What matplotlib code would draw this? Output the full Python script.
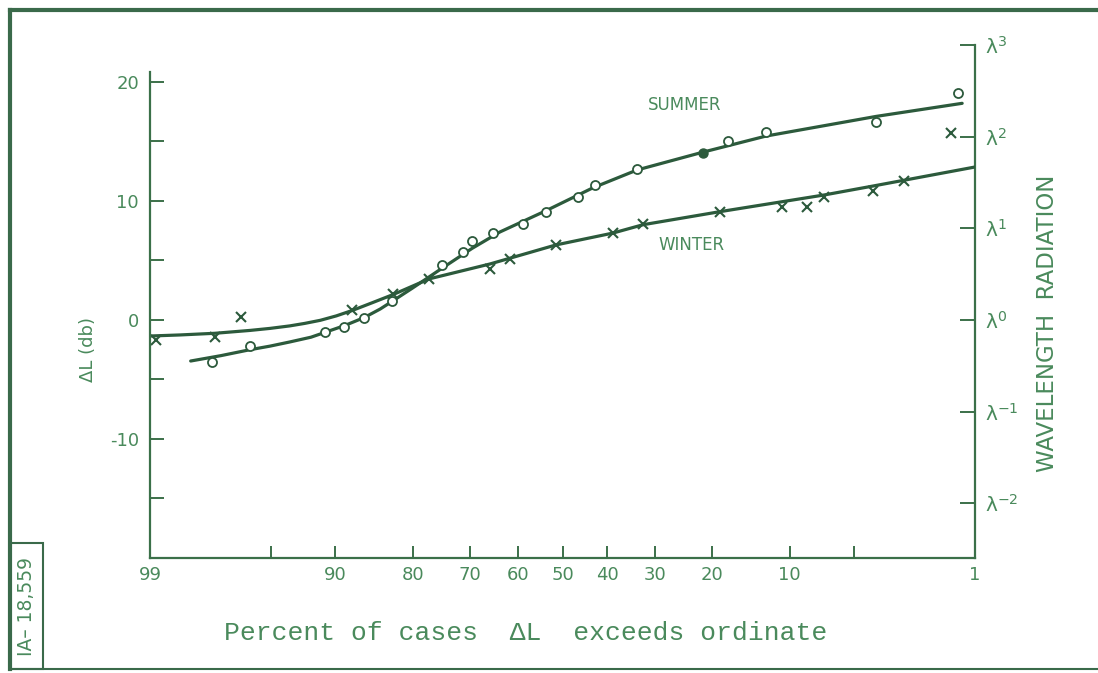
import statistics

import numpy as np
import matplotlib
matplotlib.use("Agg")
import matplotlib.pyplot as plt
from matplotlib.lines import Line2D
from matplotlib.patches import Rectangle
from matplotlib.ticker import FixedLocator, NullLocator

# percent of cases that dL exceeds the ordinate, and dL in db
summer_pct = [97.6, 96.1, 91.0, 89.1, 86.8, 83.2, 75.2, 71.3, 69.5, 65.2,
              58.8, 53.7, 46.5, 42.7, 33.7, 17.5, 12.6, 3.85, 1.29]
summer_db = [-3.5, -2.2, -1.0, -0.6, 0.15, 1.6, 4.6, 5.7, 6.6, 7.3,
             8.1, 9.1, 10.3, 11.3, 12.7, 15.0, 15.8, 16.6, 19.1]
summer_dot_pct = [21.4]
summer_dot_db = [14.0]

winter_pct = [98.9, 97.5, 96.5, 88.2, 83.0, 77.4, 65.9, 61.6, 51.5, 38.8,
              32.5, 18.7, 10.8, 8.4, 7.0, 4.0, 2.7, 1.42]
winter_db = [-1.7, -1.4, 0.25, 0.85, 2.2, 3.45, 4.3, 5.1, 6.3, 7.3,
             8.1, 9.1, 9.5, 9.5, 10.3, 10.8, 11.7, 15.7]

# hand-drawn smooth curves
summer_fit_pct = [98.2, 97.3, 96.1, 95.05, 93.8, 92.2, 91.0, 89.0, 86.8, 84.8,
                  83.2, 80.2, 75.2, 69.5, 63.8, 53.7, 43.2, 33.7, 21.4, 12.55,
                  3.85, 1.21]
summer_fit_db = [-3.45, -3.0, -2.5, -2.2, -1.85, -1.45, -1.05, -0.46, 0.21, 0.92,
                 1.55, 2.65, 4.33, 6.01, 7.39, 9.18, 11.1, 12.6, 14.1, 15.45,
                 17.1, 18.2]
winter_fit_pct = [99.0, 98.45, 97.5, 96.1, 95.05, 93.8, 92.7, 91.4, 89.9, 88.2,
                  85.9, 83.0, 77.4, 65.9, 51.5, 38.8, 32.5, 18.7, 7.0, 4.0, 1.0]
winter_fit_db = [-1.35, -1.26, -1.12, -0.88, -0.71, -0.5, -0.29, -0.03, 0.34, 0.8,
                 1.43, 2.14, 3.45, 4.7, 6.3, 7.3, 8.0, 9.1, 10.5, 11.25, 12.85]

x_ticks = [99, 95, 90, 80, 70, 60, 50, 40, 30, 20, 10, 5, 1]
x_labels = ["99", "", "90", "80", "70", "60", "50", "40", "30", "20", "10", "", "1"]
db_ticks = [-15, -10, -5, 0, 5, 10, 15, 20]
db_labels = ["", "-10", "", "0", "", "10", "", "20"]
lam_ticks = [-2, -1, 0, 1, 2, 3]
lam_labels = ["\u03bb$^{-2}$", "\u03bb$^{-1}$", "\u03bb$^{0}$",
              "\u03bb$^{1}$", "\u03bb$^{2}$", "\u03bb$^{3}$"]
DB_PER_LAMBDA = 7.7

LINE = "#2c5a3c"
AXIS = "#3b7049"
TEXT = "#4a8a5c"

nd = statistics.NormalDist()


def prob_fwd(p):
    p = np.clip(np.asarray(p, dtype=float), 1e-4, 100 - 1e-4)
    return np.vectorize(nd.inv_cdf, otypes=[float])(p / 100.0)


def prob_inv(z):
    z = np.asarray(z, dtype=float)
    return 100.0 * np.vectorize(nd.cdf, otypes=[float])(z)


plt.rcParams["font.family"] = "DejaVu Sans"
plt.rcParams["mathtext.fontset"] = "dejavusans"
plt.rcParams["mathtext.default"] = "regular"

fig = plt.figure(figsize=(10.98, 6.73), dpi=100, facecolor="white")
ax = fig.add_axes([150 / 1098, 115 / 673, 825 / 1098, 513 / 673])
ax.set_facecolor("none")

ax.set_xscale("function", functions=(prob_fwd, prob_inv))
ax.set_xlim(99, 1)
ax.set_ylim(-20, 23.1)

ax.plot(summer_fit_pct, summer_fit_db, color=LINE, lw=2.3, solid_capstyle="round",
        solid_joinstyle="round")
ax.plot(winter_fit_pct, winter_fit_db, color=LINE, lw=2.3, solid_capstyle="round",
        solid_joinstyle="round")
ax.plot(summer_pct, summer_db, ls="none", marker="o", ms=6.5, mfc="white",
        mec=LINE, mew=1.3)
ax.plot(summer_dot_pct, summer_dot_db, ls="none", marker="o", ms=6.5, color=LINE)
ax.plot(winter_pct, winter_db, ls="none", marker="x", ms=7, mec=LINE, mew=1.5)

ax.text(24.5, 18.1, "SUMMER", color=TEXT, fontsize=12, ha="center", va="center")
ax.text(23.3, 6.3, "WINTER", color=TEXT, fontsize=12, ha="center", va="center")

ax.xaxis.set_major_locator(FixedLocator(x_ticks))
ax.xaxis.set_minor_locator(NullLocator())
ax.set_xticklabels(x_labels)
ax.yaxis.set_major_locator(FixedLocator(db_ticks))
ax.yaxis.set_minor_locator(NullLocator())
ax.set_yticklabels(db_labels)

for side in ("top", "right"):
    ax.spines[side].set_visible(False)
for side in ("left", "bottom"):
    ax.spines[side].set_color(AXIS)
    ax.spines[side].set_linewidth(1.6)
ax.spines["left"].set_bounds(-20, 20.8)

ax.tick_params(axis="x", direction="in", length=9, width=1.4, color=AXIS,
               labelcolor=TEXT, labelsize=13, pad=6)
ax.tick_params(axis="y", direction="in", length=10, width=1.4, color=AXIS,
               labelcolor=TEXT, labelsize=13, pad=8)

sec = ax.secondary_yaxis("right", functions=(lambda d: d / DB_PER_LAMBDA,
                                             lambda l: l * DB_PER_LAMBDA))
sec.set_yticks(lam_ticks, labels=lam_labels)
sec.yaxis.set_minor_locator(NullLocator())
sec.spines["right"].set_color(AXIS)
sec.spines["right"].set_linewidth(1.6)
sec.tick_params(direction="in", length=11, width=1.4, color=AXIS,
                labelcolor=TEXT, labelsize=14.5, pad=7)

fig.text(88 / 1098, 1 - 350 / 673, "\u0394L (db)", rotation=90, color=TEXT,
         fontsize=13, ha="center", va="center")
fig.text(1048 / 1098, 1 - 323 / 673, "WAVELENGTH  RADIATION", rotation=90,
         color=TEXT, fontsize=16.5, ha="center", va="center")
fig.text(526 / 1098, 1 - 633 / 673, "Percent of cases  \u0394L  exceeds ordinate",
         family="Liberation Mono", color=TEXT, fontsize=19, ha="center",
         va="center")

# page frame and drawing number box
W, H = 1098, 673
frame = dict(color="#3a6a4a", transform=fig.transFigure)
fig.add_artist(Line2D([10 / W, 1], [1 - 10 / H, 1 - 10 / H], lw=3, **frame))
fig.add_artist(Line2D([10 / W, 10 / W], [1 - 669 / H, 1 - 10 / H], lw=3, **frame))
fig.add_artist(Line2D([10 / W, 1], [1 - 669 / H, 1 - 669 / H], lw=1.5, **frame))
fig.add_artist(Rectangle((10 / W, 1 - 669 / H), 33 / W, 126 / H, fill=False,
                         lw=1.5, edgecolor="#3a6a4a", transform=fig.transFigure))
fig.text(27 / W, 1 - 606 / H, "IA\u2013 18,559", rotation=90, color=TEXT,
         fontsize=13.5, ha="center", va="center")

fig.savefig("out.png", dpi=100)
